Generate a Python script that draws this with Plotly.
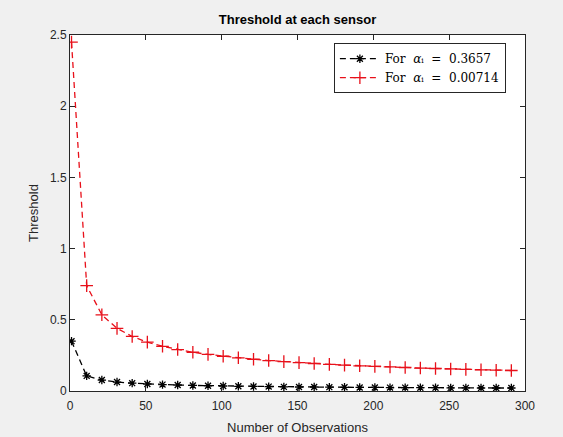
import plotly.graph_objects as go

observations = [1, 11, 21, 31, 41, 51, 61, 71, 81, 91, 101, 111, 121, 131, 141,
                151, 161, 171, 181, 191, 201, 211, 221, 231, 241, 251, 261, 271, 281, 291]
thr_black = [0.350, 0.106, 0.077, 0.063, 0.055, 0.049, 0.045, 0.042, 0.039, 0.037,
             0.035, 0.033, 0.032, 0.031, 0.029, 0.028, 0.028, 0.027, 0.026, 0.025,
             0.025, 0.024, 0.024, 0.023, 0.023, 0.022, 0.022, 0.021, 0.021, 0.021]
thr_red = [2.450, 0.740, 0.535, 0.440, 0.383, 0.343, 0.314, 0.291, 0.272, 0.257,
           0.244, 0.233, 0.223, 0.214, 0.206, 0.199, 0.193, 0.187, 0.182, 0.177,
           0.173, 0.169, 0.165, 0.161, 0.158, 0.155, 0.152, 0.149, 0.146, 0.144]
label_black = "For  <i>α</i>ᵢ  =  0.3657"
label_red = "For  <i>α</i>ᵢ  =  0.00714"
x_ticks = [0, 50, 100, 150, 200, 250, 300]
y_ticks = [0, 0.5, 1, 1.5, 2, 2.5]

fig = go.Figure()
fig.add_trace(go.Scatter(
    x=observations, y=thr_black, mode="lines+markers", name=label_black,
    line=dict(color="black", width=1.3, dash="6px,4px"),
    marker=dict(symbol="asterisk-open", size=7, color="black", line=dict(width=1.3, color="black")),
))
fig.add_trace(go.Scatter(
    x=observations, y=thr_red, mode="lines+markers", name=label_red,
    line=dict(color="#e8101a", width=1.3, dash="6px,4px"),
    marker=dict(symbol="cross-thin-open", size=9, color="#e8101a", line=dict(width=1.3, color="#e8101a")),
))

axis_common = dict(
    showgrid=False, zeroline=False, showline=True, mirror="ticks",
    linecolor="#262626", linewidth=1, ticks="inside", ticklen=5, tickcolor="#262626",
    automargin=False,
    tickfont=dict(family="Liberation Sans, Arial", size=12, color="#262626"),
)
fig.update_layout(
    width=563, height=437,
    paper_bgcolor="#f0f0f0", plot_bgcolor="white",
    margin=dict(l=70, r=38, t=35, b=46),
    title=dict(text="<b>Threshold at each sensor</b>", x=0.5, xanchor="center",
               xref="paper", y=0.955, yanchor="middle",
               font=dict(family="Liberation Sans, Arial", size=13, color="black")),
    xaxis=dict(range=[0, 300], tickvals=x_ticks, ticklabelstandoff=4,
               title=dict(text="Number of Observations", standoff=10,
                          font=dict(family="Liberation Sans, Arial", size=13, color="#262626")),
               **axis_common),
    yaxis=dict(range=[0, 2.5], tickvals=y_ticks,
               title=dict(text="Threshold", standoff=8,
                          font=dict(family="Liberation Sans, Arial", size=13, color="#262626")),
               **axis_common),
    legend=dict(x=0.958, y=0.977, xanchor="right", yanchor="top",
                bgcolor="white", bordercolor="#262626", borderwidth=1,
                font=dict(family="DejaVu Serif, Liberation Serif", size=12, color="black"),
                itemwidth=40, tracegroupgap=0),
    showlegend=True,
)
fig.write_html("out.html", config={"displayModeBar": False},
               post_script="document.body.style.margin='0';document.body.style.overflow='hidden';")
